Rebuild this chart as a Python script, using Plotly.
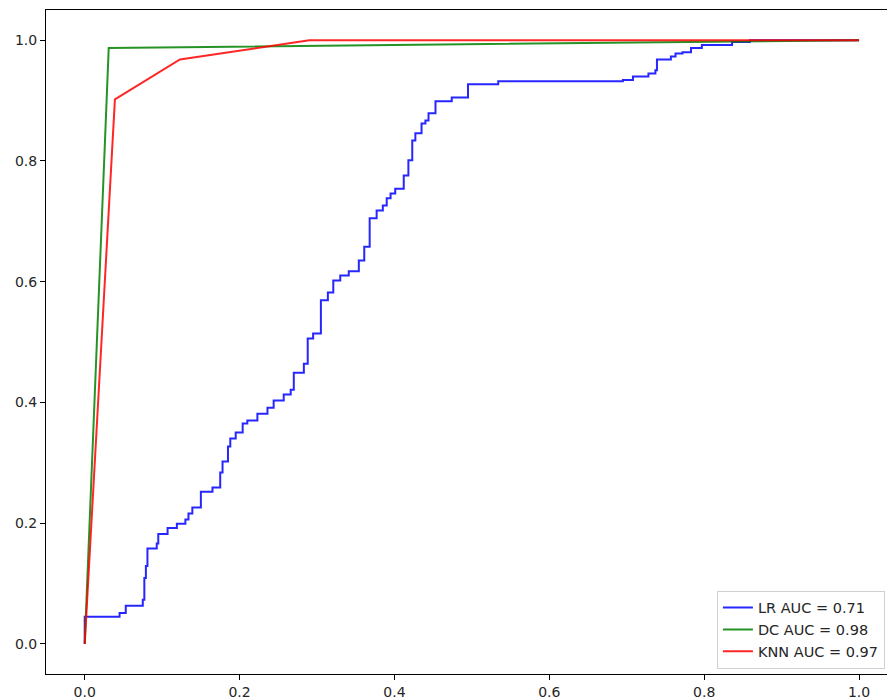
import plotly.graph_objects as go

# LR ROC curve (step corners: fpr where a rise occurs, tpr after rise)
lr_fpr = [0.000, 0.000, 0.045, 0.053, 0.075, 0.077, 0.079, 0.081, 0.093, 0.095,
          0.107, 0.119, 0.130, 0.134, 0.139, 0.150, 0.165, 0.175, 0.178, 0.185,
          0.188, 0.195, 0.204, 0.210, 0.223, 0.236, 0.244, 0.257, 0.266, 0.270,
          0.283, 0.288, 0.295, 0.305, 0.314, 0.321, 0.330, 0.341, 0.354, 0.361,
          0.368, 0.377, 0.385, 0.390, 0.395, 0.401, 0.412, 0.418, 0.423, 0.427,
          0.435, 0.440, 0.444, 0.453, 0.474, 0.495, 0.534, 0.695, 0.708, 0.728,
          0.737, 0.739, 0.757, 0.763, 0.772, 0.783, 0.797, 0.836, 0.859, 1.000]
lr_tpr = [0.000, 0.045, 0.051, 0.063, 0.073, 0.109, 0.129, 0.158, 0.166, 0.182,
          0.192, 0.199, 0.206, 0.216, 0.226, 0.252, 0.259, 0.284, 0.302, 0.327,
          0.340, 0.350, 0.365, 0.370, 0.381, 0.391, 0.403, 0.413, 0.421, 0.449,
          0.464, 0.506, 0.514, 0.569, 0.582, 0.602, 0.610, 0.617, 0.635, 0.658,
          0.705, 0.718, 0.726, 0.738, 0.746, 0.754, 0.776, 0.801, 0.834, 0.846,
          0.862, 0.867, 0.879, 0.899, 0.905, 0.927, 0.932, 0.934, 0.940, 0.945,
          0.950, 0.968, 0.973, 0.978, 0.980, 0.987, 0.992, 0.997, 1.000, 1.000]

dc_fpr = [0.0, 0.031, 1.0]
dc_tpr = [0.0, 0.987, 1.0]

knn_fpr = [0.0, 0.039, 0.123, 0.29, 1.0]
knn_tpr = [0.0, 0.902, 0.968, 1.0, 1.0]

names = ["LR AUC = 0.71", "DC AUC = 0.98", "KNN AUC = 0.97"]
colors = ["rgba(0,0,255,0.85)", "rgba(0,128,0,0.85)", "rgba(255,0,0,0.85)"]

ticks = [0.0, 0.2, 0.4, 0.6, 0.8, 1.0]
tick_text = ["0.0", "0.2", "0.4", "0.6", "0.8", "1.0"]

fig = go.Figure()
fig.add_trace(go.Scatter(x=lr_fpr, y=lr_tpr, mode="lines", line_shape="hv",
                         name=names[0], line=dict(color=colors[0], width=2)))
fig.add_trace(go.Scatter(x=dc_fpr, y=dc_tpr, mode="lines",
                         name=names[1], line=dict(color=colors[1], width=2)))
fig.add_trace(go.Scatter(x=knn_fpr, y=knn_tpr, mode="lines",
                         name=names[2], line=dict(color=colors[2], width=2)))

axis_common = dict(
    showgrid=False, zeroline=False, showline=True, linecolor="black", linewidth=1,
    mirror=True, ticks="outside", ticklen=5, tickwidth=1, tickcolor="black",
    tickvals=ticks, ticktext=tick_text,
    tickfont=dict(family="DejaVu Sans", size=14, color="#262626"),
)

fig.update_layout(
    width=887, height=699,
    margin=dict(l=46, r=0, t=10, b=25),
    plot_bgcolor="white", paper_bgcolor="white",
    xaxis=dict(range=[-0.05, 1.0361], **axis_common),
    yaxis=dict(range=[-0.05, 1.05], **axis_common),
    legend=dict(x=0.9975, y=0.008, xanchor="right", yanchor="bottom",
                bordercolor="#d0d0d0", borderwidth=1, bgcolor="rgba(255,255,255,0.8)",
                font=dict(family="DejaVu Sans", size=14.5, color="#262626"),
                tracegroupgap=0),
    showlegend=True,
)

fig.write_html(
    "out.html",
    config={"displayModeBar": False},
    post_script="document.body.style.margin='0';document.body.style.overflow='hidden';",
)
